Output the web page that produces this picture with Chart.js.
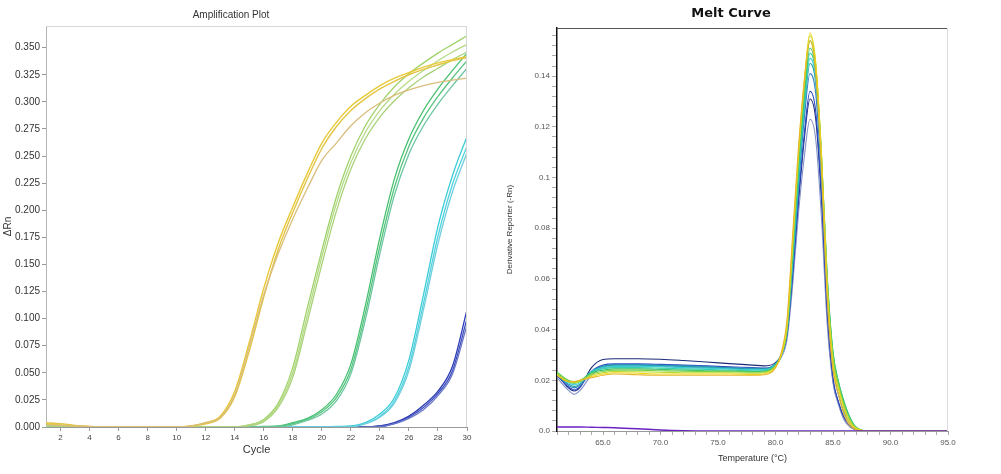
<!DOCTYPE html>
<html>
<head>
<meta charset="utf-8">
<title>Amplification Plot / Melt Curve</title>
<script src="https://cdn.jsdelivr.net/npm/chart.js@4"></script>
<style>
  body { margin: 0; background: #fff; }
  #wrap { position: relative; width: 1001px; height: 474px; }
  canvas { position: absolute; top: 0; }
</style>
</head>
<body>
<div id="wrap">
  <canvas id="ampChart" width="500" height="474" style="left:0"></canvas>
  <canvas id="meltChart" width="501" height="474" style="left:500px"></canvas>
</div>
<script>
// ===== AMPLIFICATION DATA (delta Rn per cycle) =====
const cycles = [1, 2, 3, 4, 5, 6, 7, 8, 9, 10, 11, 12, 13, 14, 15, 16, 17, 18, 19, 20, 21, 22, 23, 24, 25, 26, 27, 28, 29, 30];

const ampYellowA = [0.003, 0.002, 0.001, 0.0005, 0, 0, 0, 0, 0, 0, 0.001, 0.004, 0.010, 0.033, 0.078, 0.128, 0.170, 0.203, 0.234, 0.262, 0.281, 0.296, 0.306, 0.315, 0.322, 0.327, 0.332, 0.336, 0.339, 0.342];
const ampYellowB = [0.004, 0.003, 0.0015, 0.0005, 0, 0, 0, 0, 0, 0, 0.0008, 0.003, 0.008, 0.028, 0.070, 0.120, 0.164, 0.198, 0.229, 0.257, 0.277, 0.292, 0.303, 0.312, 0.319, 0.325, 0.330, 0.334, 0.338, 0.341];
const ampTan     = [0.002, 0.0015, 0.001, 0.0003, 0, 0, 0, 0, 0, 0, 0.001, 0.004, 0.009, 0.030, 0.074, 0.122, 0.160, 0.192, 0.220, 0.246, 0.262, 0.278, 0.290, 0.299, 0.306, 0.311, 0.315, 0.318, 0.320, 0.322];
const ampLimeA   = [0.002, 0.001, 0, 0, 0, 0, 0, 0, 0, 0, 0, 0, 0, 0, 0.002, 0.007, 0.022, 0.055, 0.110, 0.163, 0.212, 0.250, 0.278, 0.298, 0.314, 0.326, 0.336, 0.345, 0.353, 0.361];
const ampLimeB   = [0.001, 0.0005, 0, 0, 0, 0, 0, 0, 0, 0, 0, 0, 0, 0, 0.002, 0.006, 0.020, 0.050, 0.103, 0.157, 0.206, 0.244, 0.272, 0.292, 0.307, 0.319, 0.329, 0.338, 0.346, 0.353];
const ampLimeC   = [0.001, 0, 0, 0, 0, 0, 0, 0, 0, 0, 0, 0, 0, 0, 0.001, 0.005, 0.018, 0.046, 0.097, 0.150, 0.199, 0.238, 0.266, 0.286, 0.301, 0.313, 0.323, 0.331, 0.339, 0.346];
const ampGreenA  = [0.001, 0, 0, 0, 0, 0, 0, 0, 0, 0, 0, 0, 0, 0, 0, 0.0005, 0.001, 0.004, 0.008, 0.016, 0.030, 0.058, 0.112, 0.175, 0.229, 0.266, 0.292, 0.312, 0.329, 0.345];
const ampGreenB  = [0, 0, 0, 0, 0, 0, 0, 0, 0, 0, 0, 0, 0, 0, 0, 0, 0.0005, 0.003, 0.007, 0.014, 0.027, 0.053, 0.105, 0.167, 0.221, 0.259, 0.285, 0.305, 0.322, 0.338];
const ampGreenC  = [0, 0, 0, 0, 0, 0, 0, 0, 0, 0, 0, 0, 0, 0, 0, 0, 0, 0.002, 0.006, 0.012, 0.024, 0.049, 0.099, 0.160, 0.214, 0.252, 0.278, 0.298, 0.315, 0.331];
const ampCyanA   = [0, 0, 0, 0, 0, 0, 0, 0, 0, 0, 0, 0, 0, 0, 0, 0, 0, 0, 0, 0, 0.0005, 0.001, 0.004, 0.012, 0.027, 0.062, 0.122, 0.185, 0.232, 0.268];
const ampCyanB   = [0, 0, 0, 0, 0, 0, 0, 0, 0, 0, 0, 0, 0, 0, 0, 0, 0, 0, 0, 0, 0, 0.0005, 0.003, 0.010, 0.024, 0.056, 0.114, 0.176, 0.224, 0.259];
const ampCyanC   = [0, 0, 0, 0, 0, 0, 0, 0, 0, 0, 0, 0, 0, 0, 0, 0, 0, 0, 0, 0, 0, 0, 0.003, 0.009, 0.022, 0.052, 0.108, 0.169, 0.217, 0.253];
const ampBlueA   = [0, 0, 0, 0, 0, 0, 0, 0, 0, 0, 0, 0, 0, 0, 0, 0, 0, 0, 0, 0, 0, 0, 0, 0.001, 0.004, 0.010, 0.020, 0.033, 0.056, 0.108];
const ampBlueB   = [0, 0, 0, 0, 0, 0, 0, 0, 0, 0, 0, 0, 0, 0, 0, 0, 0, 0, 0, 0, 0, 0, 0, 0.001, 0.003, 0.009, 0.018, 0.031, 0.052, 0.100];
const ampBlueC   = [0, 0, 0, 0, 0, 0, 0, 0, 0, 0, 0, 0, 0, 0, 0, 0, 0, 0, 0, 0, 0, 0, 0, 0, 0.003, 0.008, 0.016, 0.029, 0.049, 0.094];

// ===== MELT CURVE DATA (derivative reporter per temperature) =====
const temps = [61, 62, 62.5, 63, 64, 65, 66, 68, 70, 72, 74, 76, 78, 79, 80, 80.5, 81, 81.5, 82, 82.5, 83, 83.5, 84, 84.5, 85, 85.5, 86, 86.5, 87, 88, 95];

const meltNavy   = [0.0225, 0.017, 0.0158, 0.0172, 0.025, 0.0282, 0.0285, 0.0285, 0.0283, 0.0278, 0.0272, 0.0266, 0.026, 0.0257, 0.027, 0.030, 0.038, 0.061, 0.090, 0.115, 0.131, 0.123, 0.091, 0.046, 0.020, 0.011, 0.005, 0.002, 0.0005, 0, 0];
const meltSlate  = [0.021, 0.016, 0.0145, 0.016, 0.022, 0.025, 0.0255, 0.0256, 0.0255, 0.0252, 0.025, 0.0246, 0.0243, 0.0242, 0.026, 0.029, 0.036, 0.058, 0.086, 0.108, 0.123, 0.115, 0.084, 0.042, 0.019, 0.010, 0.004, 0.0015, 0.0005, 0, 0];
const meltBlue   = [0.0218, 0.0175, 0.0162, 0.0175, 0.0235, 0.026, 0.0265, 0.0265, 0.0263, 0.026, 0.0257, 0.0253, 0.025, 0.0248, 0.0262, 0.030, 0.038, 0.062, 0.092, 0.117, 0.134, 0.126, 0.093, 0.047, 0.021, 0.011, 0.005, 0.002, 0.0005, 0, 0];
const meltSteel  = [0.0222, 0.018, 0.017, 0.018, 0.0232, 0.0255, 0.0262, 0.0262, 0.026, 0.0258, 0.0255, 0.025, 0.0248, 0.0247, 0.0265, 0.030, 0.039, 0.065, 0.096, 0.123, 0.141, 0.133, 0.099, 0.052, 0.025, 0.014, 0.007, 0.003, 0.001, 0, 0];
const meltTeal   = [0.022, 0.0185, 0.0175, 0.0185, 0.0235, 0.0255, 0.026, 0.026, 0.0258, 0.0255, 0.0252, 0.0248, 0.0245, 0.0245, 0.0265, 0.030, 0.039, 0.066, 0.098, 0.126, 0.145, 0.137, 0.103, 0.056, 0.028, 0.017, 0.009, 0.004, 0.001, 0, 0];
const meltCyan   = [0.0225, 0.019, 0.0182, 0.019, 0.0235, 0.025, 0.0255, 0.0256, 0.0254, 0.025, 0.0248, 0.0245, 0.0242, 0.0242, 0.0262, 0.030, 0.040, 0.068, 0.100, 0.128, 0.147, 0.139, 0.105, 0.058, 0.030, 0.018, 0.010, 0.004, 0.0012, 0, 0];
const meltAqua   = [0.0228, 0.0195, 0.0188, 0.0195, 0.0232, 0.0245, 0.025, 0.025, 0.0248, 0.0245, 0.0243, 0.024, 0.0238, 0.0238, 0.026, 0.030, 0.040, 0.069, 0.102, 0.130, 0.149, 0.141, 0.107, 0.060, 0.031, 0.019, 0.011, 0.005, 0.0015, 0, 0];
const meltGreen  = [0.0232, 0.0198, 0.019, 0.0198, 0.023, 0.024, 0.0245, 0.0245, 0.0243, 0.024, 0.0238, 0.0237, 0.0235, 0.0236, 0.0258, 0.030, 0.040, 0.070, 0.104, 0.132, 0.151, 0.142, 0.108, 0.061, 0.031, 0.019, 0.011, 0.005, 0.0015, 0, 0];
const meltLime   = [0.023, 0.020, 0.0195, 0.020, 0.0225, 0.0235, 0.024, 0.024, 0.0238, 0.0236, 0.0235, 0.0234, 0.0232, 0.0233, 0.0255, 0.030, 0.040, 0.072, 0.107, 0.135, 0.154, 0.144, 0.109, 0.060, 0.030, 0.018, 0.010, 0.004, 0.0015, 0, 0];
const meltOlive  = [0.0225, 0.0195, 0.019, 0.0195, 0.022, 0.023, 0.0235, 0.0234, 0.0232, 0.023, 0.023, 0.023, 0.0228, 0.023, 0.0255, 0.030, 0.041, 0.074, 0.109, 0.137, 0.156, 0.145, 0.109, 0.058, 0.028, 0.017, 0.009, 0.004, 0.001, 0, 0];
const meltYellow = [0.022, 0.0195, 0.0195, 0.020, 0.0215, 0.0225, 0.023, 0.0228, 0.0225, 0.0225, 0.0225, 0.0225, 0.0223, 0.0225, 0.025, 0.030, 0.042, 0.075, 0.110, 0.138, 0.157, 0.145, 0.108, 0.056, 0.026, 0.016, 0.008, 0.003, 0.001, 0, 0];
const meltAmber  = [0.022, 0.0195, 0.0195, 0.020, 0.021, 0.022, 0.0225, 0.0222, 0.022, 0.022, 0.022, 0.022, 0.022, 0.0222, 0.025, 0.031, 0.044, 0.078, 0.112, 0.138, 0.154, 0.141, 0.103, 0.052, 0.024, 0.014, 0.006, 0.002, 0.0005, 0, 0];
const meltPurple = [0.0016, 0.0016, 0.0016, 0.0016, 0.0015, 0.0014, 0.0013, 0.0009, 0.0004, 0.0001, 0, 0, 0, 0, 0, 0, 0, 0, 0, 0, 0, 0, 0, 0, 0, 0, 0, 0, 0, 0, 0];

const ampTicks = { min: 0, max: 0.37, step: 0.025 };
const meltTicks = { min: 0, max: 0.159, step: 0.004, labelEvery: 0.02 };


// ===== SHARED HELPERS =====
const FONT = "'Liberation Sans', Arial, sans-serif";

function line(data, color, width) {
  return {
    data: data,
    borderColor: color,
    borderWidth: width,
    pointRadius: 0,
    fill: false,
    cubicInterpolationMode: 'monotone'
  };
}

// light frame on top/right of the plot area + a panel title
const frame = {
  id: 'frame',
  afterDatasetsDraw(chart, args, opts) {
    const { ctx, chartArea: a } = chart;
    ctx.save();
    ctx.lineWidth = 1;
    ctx.strokeStyle = opts.top;
    ctx.beginPath();
    ctx.moveTo(a.left, a.top + 0.5);
    ctx.lineTo(a.right, a.top + 0.5);
    ctx.stroke();
    ctx.strokeStyle = opts.right;
    ctx.beginPath();
    ctx.moveTo(a.right - 0.5, a.top);
    ctx.lineTo(a.right - 0.5, a.bottom);
    ctx.stroke();
    ctx.restore();
  },
  afterDraw(chart, args, opts) {
    const ctx = chart.ctx;
    ctx.save();
    ctx.font = opts.titleFont;
    ctx.fillStyle = opts.titleColor;
    ctx.textAlign = 'center';
    ctx.textBaseline = 'middle';
    ctx.fillText(opts.title, opts.titleX, opts.titleY);
    ctx.restore();
  }
};


// ===== AMPLIFICATION PLOT =====
new Chart(document.getElementById('ampChart'), {
  type: 'line',
  data: {
    labels: cycles,
    datasets: [
      line(ampTan, '#d9bd7c', 1.3),
      line(ampYellowB, '#e2c545', 1.4),
      line(ampYellowA, '#e9c93a', 1.4),
      line(ampLimeC, '#a9d27a', 1.3),
      line(ampLimeB, '#b5da86', 1.3),
      line(ampLimeA, '#9fd36a', 1.3),
      line(ampGreenC, '#6cc6a0', 1.3),
      line(ampGreenB, '#55c47e', 1.3),
      line(ampGreenA, '#48c070', 1.3),
      line(ampCyanC, '#6fcfdc', 1.3),
      line(ampCyanB, '#4fd2de', 1.3),
      line(ampCyanA, '#3dccd8', 1.3),
      line(ampBlueC, '#6a76c8', 1.3),
      line(ampBlueB, '#3d4dbd', 1.3),
      line(ampBlueA, '#2b3cb4', 1.3)
    ]
  },
  options: {
    responsive: false,
    animation: false,
    layout: { padding: { top: 26, right: 33, left: 0, bottom: 0 } },
    plugins: {
      legend: { display: false },
      tooltip: { enabled: false },
      frame: {
        top: '#d6d6d6', right: '#d6d6d6',
        title: 'Amplification Plot', titleX: 231, titleY: 15,
        titleFont: '10px ' + FONT, titleColor: '#333'
      }
    },
    scales: {
      x: {
        type: 'linear',
        min: 1,
        max: 30,
        afterFit: s => { s.height = 47; },
        grid: { display: true, drawOnChartArea: false, tickLength: 4, color: '#999' },
        border: { color: '#999' },
        ticks: {
          stepSize: 2, includeBounds: false, autoSkip: false, maxRotation: 0,
          padding: 2, color: '#444', font: { family: FONT, size: 8 }
        },
        title: {
          display: true, text: 'Cycle', color: '#333',
          font: { family: FONT, size: 11 }, padding: { top: 0, bottom: 17 }
        }
      },
      y: {
        min: ampTicks.min,
        max: ampTicks.max,
        afterFit: s => { s.width = 46; },
        grid: { display: true, drawOnChartArea: false, tickLength: 4, color: '#999' },
        border: { color: '#b5b5b5' },
        ticks: {
          stepSize: ampTicks.step, includeBounds: false, autoSkip: false,
          padding: 2, color: '#333', font: { family: FONT, size: 10 },
          callback: v => v.toFixed(3)
        },
        title: {
          display: true, text: 'ΔRn', color: '#333',
          font: { family: FONT, size: 10 }, padding: { top: 2, bottom: 0 }
        }
      }
    }
  },
  plugins: [frame]
});


// ===== MELT CURVE =====
new Chart(document.getElementById('meltChart'), {
  type: 'line',
  data: {
    labels: temps,
    datasets: [
      line(meltPurple, '#6a22c4', 1.4),
      line(meltAmber, '#e6b52c', 1.1),
      line(meltYellow, '#f0d91a', 1.1),
      line(meltOlive, '#b9d92c', 1.1),
      line(meltLime, '#74d148', 1.1),
      line(meltGreen, '#3cc16e', 1.1),
      line(meltAqua, '#35d1aa', 1.1),
      line(meltCyan, '#3ccbd6', 1.1),
      line(meltTeal, '#1f9fa8', 1.1),
      line(meltSteel, '#3a82c4', 1.1),
      line(meltBlue, '#2a48c2', 1.1),
      line(meltSlate, '#8290c8', 1.1),
      line(meltNavy, '#1c2a78', 1.1)
    ]
  },
  options: {
    responsive: false,
    animation: false,
    layout: { padding: { top: 28, right: 53, left: 0, bottom: 0 } },
    plugins: {
      legend: { display: false },
      tooltip: { enabled: false },
      frame: {
        top: '#555', right: '#dcdcdc',
        title: 'Melt Curve', titleX: 231, titleY: 14,
        titleFont: 'bold 13px "DejaVu Sans", sans-serif', titleColor: '#111'
      }
    },
    scales: {
      x: {
        type: 'linear',
        min: 61,
        max: 95,
        afterFit: s => { s.height = 43; },
        grid: { display: true, drawOnChartArea: false, tickLength: 4, color: '#aaa' },
        border: { color: '#999' },
        ticks: {
          stepSize: 1, includeBounds: false, autoSkip: false, maxRotation: 0,
          padding: 3, color: '#555', font: { family: FONT, size: 8 },
          callback: v => (v % 5 === 0 ? v.toFixed(1) : '')
        },
        title: {
          display: true, text: 'Temperature (°C)', color: '#333',
          font: { family: FONT, size: 9 }, padding: { top: 0, bottom: 10 }
        }
      },
      y: {
        min: meltTicks.min,
        max: meltTicks.max,
        afterFit: s => { s.width = 57; },
        grid: { display: true, drawOnChartArea: false, tickLength: 5, color: '#aaa' },
        border: { color: '#111', width: 1.5 },
        ticks: {
          stepSize: meltTicks.step, includeBounds: false, autoSkip: false,
          padding: 2, color: '#555', font: { family: FONT, size: 8 },
          callback: v => {
            const r = Math.round(v * 1000);
            if (r % Math.round(meltTicks.labelEvery * 1000) !== 0) return '';
            return r === 0 ? '0.0' : String(r / 1000);
          }
        },
        title: {
          display: true, text: 'Derivative Reporter (-Rn)', color: '#333',
          font: { family: FONT, size: 8 }, padding: { top: 5, bottom: 0 }
        }
      }
    }
  },
  plugins: [frame]
});
</script>
</body>
</html>
